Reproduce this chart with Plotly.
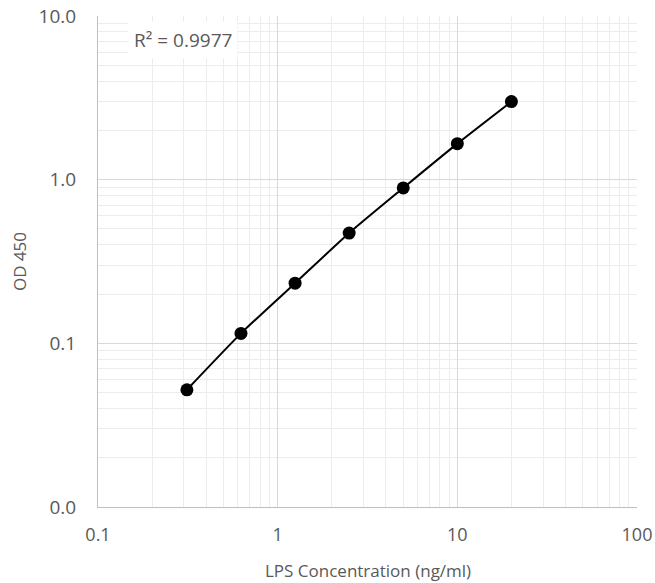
import plotly.graph_objects as go

concentration = [0.3125, 0.625, 1.25, 2.5, 5, 10, 20]
od450 = [0.052, 0.115, 0.233, 0.472, 0.89, 1.66, 3.0]
r2_label = "R² = 0.9977"
x_tickvals = [0.1, 1, 10, 100]
x_ticktext = ["0.1", "1", "10", "100"]
y_tickvals = [0.01, 0.1, 1, 10]
y_ticktext = ["0.0", "0.1", "1.0", "10.0"]
x_title = "LPS Concentration (ng/ml)"
y_title = "OD 450"

font_family = "Open Sans, Liberation Sans, sans-serif"
gray = "#595959"

fig = go.Figure()
fig.add_trace(go.Scatter(
    x=concentration, y=od450, mode="lines+markers",
    line=dict(color="black", width=2, shape="spline", smoothing=0.6),
    marker=dict(color="black", size=13),
    showlegend=False, cliponaxis=False,
))

fig.add_annotation(
    xref="paper", yref="paper", x=0.158, y=0.951, xanchor="center", yanchor="middle",
    text=r2_label, showarrow=False, bgcolor="white",
    font=dict(family=font_family, size=19, color=gray),
    borderpad=5,
)
fig.add_annotation(
    xref="paper", yref="paper", x=0.5, y=-0.130, xanchor="center", yanchor="middle",
    text=x_title, showarrow=False,
    font=dict(family=font_family, size=17, color=gray),
)
fig.add_annotation(
    xref="paper", yref="paper", x=-0.1455, y=0.5, xanchor="center", yanchor="middle",
    text=y_title, showarrow=False, textangle=-90,
    font=dict(family=font_family, size=17, color=gray),
)

fig.update_xaxes(
    type="log", range=[-1, 2], tickvals=x_tickvals, ticktext=x_ticktext,
    showgrid=True, gridcolor="#d9d9d9", gridwidth=1,
    minor=dict(dtick="D1", showgrid=True, gridcolor="#ececec", gridwidth=1, ticks=""),
    showline=True, linecolor="#bfbfbf", linewidth=1, zeroline=False,
    ticks="", ticklabelstandoff=11, automargin=False, ticklabeloverflow="allow",
    tickfont=dict(family=font_family, size=18, color=gray),
)
fig.update_yaxes(
    type="log", range=[-2, 1], tickvals=y_tickvals, ticktext=y_ticktext,
    showgrid=True, gridcolor="#d9d9d9", gridwidth=1,
    minor=dict(dtick="D1", showgrid=True, gridcolor="#ececec", gridwidth=1, ticks=""),
    showline=True, linecolor="#bfbfbf", linewidth=1, zeroline=False,
    ticks="", ticklabelstandoff=17, automargin=False, ticklabeloverflow="allow",
    tickfont=dict(family=font_family, size=19, color=gray),
)

fig.update_layout(
    width=655, height=583,
    margin=dict(l=98, r=18, t=16, b=76),
    paper_bgcolor="white", plot_bgcolor="white",
)

fig.write_html(
    "out.html",
    config={"displayModeBar": False},
    post_script="document.body.style.margin='0';document.body.style.overflow='hidden';",
)
